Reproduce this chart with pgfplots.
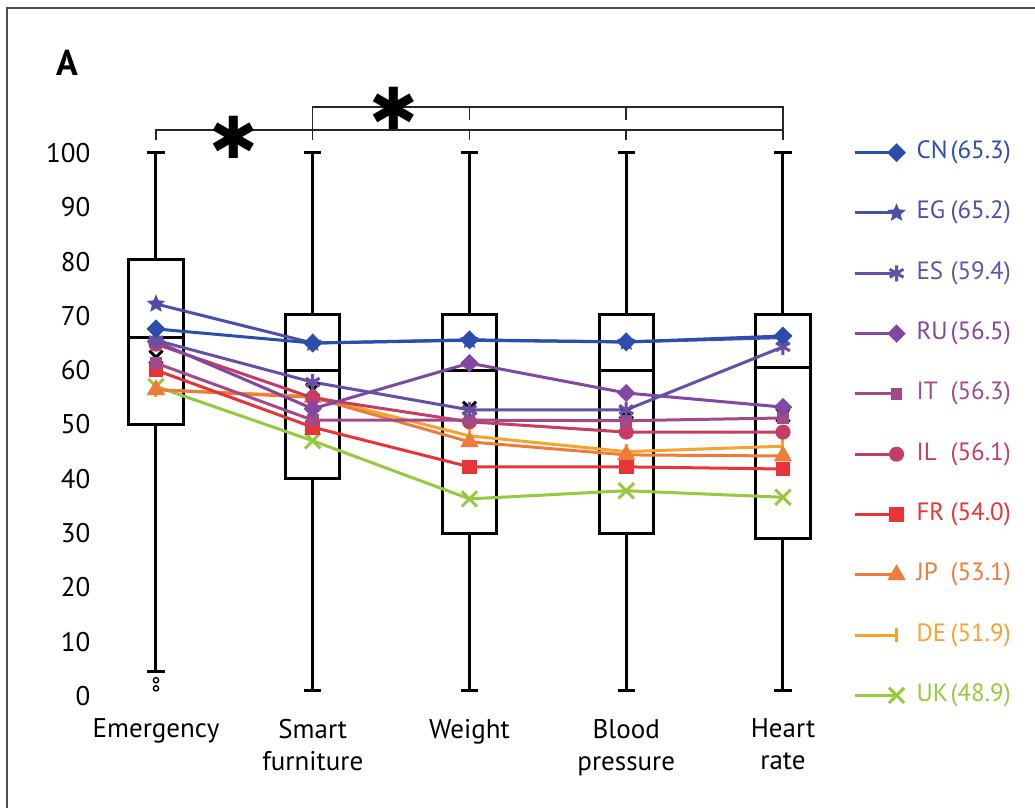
\documentclass[border=0pt]{standalone}
\usepackage{fontspec}
\setmainfont{PT Sans}
\newfontfamily\djv{DejaVu Sans}
\usepackage{pgfplots}
\pgfplotsset{compat=1.18}
\usepgfplotslibrary{statistics}
\usetikzlibrary{plotmarks}
\definecolor{cCN}{HTML}{2B4EAE}
\definecolor{cEG}{HTML}{4A4FAA}
\definecolor{cES}{HTML}{6650A6}
\definecolor{cRU}{HTML}{8147A3}
\definecolor{cIT}{HTML}{A04A8C}
\definecolor{cIL}{HTML}{C53D62}
\definecolor{cFR}{HTML}{E63438}
\definecolor{cJP}{HTML}{EF7B3A}
\definecolor{cDE}{HTML}{F5A32E}
\definecolor{cUK}{HTML}{96C93D}
\pgfdeclareplotmark{fstar}{%
  \pgfpathmoveto{\pgfqpointpolar{90}{\pgfplotmarksize}}%
  \pgfpathlineto{\pgfqpointpolar{126}{0.45\pgfplotmarksize}}%
  \pgfpathlineto{\pgfqpointpolar{162}{\pgfplotmarksize}}%
  \pgfpathlineto{\pgfqpointpolar{198}{0.45\pgfplotmarksize}}%
  \pgfpathlineto{\pgfqpointpolar{234}{\pgfplotmarksize}}%
  \pgfpathlineto{\pgfqpointpolar{270}{0.45\pgfplotmarksize}}%
  \pgfpathlineto{\pgfqpointpolar{306}{\pgfplotmarksize}}%
  \pgfpathlineto{\pgfqpointpolar{342}{0.45\pgfplotmarksize}}%
  \pgfpathlineto{\pgfqpointpolar{18}{\pgfplotmarksize}}%
  \pgfpathlineto{\pgfqpointpolar{54}{0.45\pgfplotmarksize}}%
  \pgfpathclose
  \pgfusepathqfillstroke}
\newcommand{\legtxt}[3]{\textcolor{#1}{\makebox[17pt][l]{#2}(#3)}}
\begin{document}
\begin{tikzpicture}
\begin{axis}[
  scale only axis, width=376.2pt, height=271.5pt,
  anchor=south west, at={(-31.35pt,0pt)},
  xmin=-0.4, xmax=4.4, ymin=0, ymax=100,
  clip=false,
  axis line style={draw=none},
  major tick length=0pt,
  xtick={0,1,2,3,4},
  xticklabels={Emergency,{Smart\\furniture},Weight,{Blood\\pressure},{Heart\\rate}},
  xticklabel style={align=center, font=\fontsize{13.5}{16}\selectfont, yshift=-8pt},
  ytick={0,10,...,100},
  yticklabel style={font=\fontsize{13.5}{16}\selectfont, xshift=2pt},
  /pgf/number format/assume math mode=true,
  boxplot/draw direction=y,
  reverse legend,
  legend cell align=left,
  legend image code/.code={\draw[mark repeat=2,mark phase=2,#1] plot coordinates {(0pt,0pt) (21pt,0pt)};},
  legend style={draw=none, fill=none, inner sep=0pt, outer sep=0pt,
    at={(axis cs:4.447,101.9)}, anchor=north west,
    row sep=20.15pt, column sep=6pt,
    nodes={inner sep=0pt, text height=8pt, text depth=2pt, font=\fontsize{12.5}{14}\selectfont}},
]
% boxes
\addplot[forget plot, black, line width=1.5pt, mark=o, mark size=1.3pt, mark options={line width=0.7pt},
  boxplot prepared={draw position=0, lower whisker=4.6, lower quartile=50, median=66, upper quartile=80.3, upper whisker=100, box extend=0.345, whisker extend=0.11}]
  coordinates {(0,2.9) (0,1.4)};
\addplot[forget plot, black, line width=1.5pt,
  boxplot prepared={draw position=1, lower whisker=1, lower quartile=40, median=60, upper quartile=70.3, upper whisker=100, box extend=0.345, whisker extend=0.11}]
  coordinates {};
\addplot[forget plot, black, line width=1.5pt,
  boxplot prepared={draw position=2, lower whisker=1, lower quartile=30, median=60, upper quartile=70.3, upper whisker=100, box extend=0.345, whisker extend=0.11}]
  coordinates {};
\addplot[forget plot, black, line width=1.5pt,
  boxplot prepared={draw position=3, lower whisker=1, lower quartile=30, median=60, upper quartile=70.3, upper whisker=100, box extend=0.345, whisker extend=0.11}]
  coordinates {};
\addplot[forget plot, black, line width=1.5pt,
  boxplot prepared={draw position=4, lower whisker=1, lower quartile=29, median=60.5, upper quartile=70.3, upper whisker=100, box extend=0.345, whisker extend=0.11}]
  coordinates {};
% means
\addplot[forget plot, only marks, black, mark=x, mark size=4.6pt, line width=1.5pt]
  coordinates {(0,62.4) (1,56.4) (2,53.0) (3,52.3) (4,51.7)};
% series
\addplot[cUK, line width=1.5pt, mark=x, mark size=5.4pt] coordinates {(0,57.0) (1,47.0) (2,36.3) (3,37.8) (4,36.6)};
\addlegendentry{\legtxt{cUK}{UK}{48.9}}
\addplot[cDE, line width=1.5pt, mark=|, mark size=3.6pt] coordinates {(0,56.4) (1,55.2) (2,47.9) (3,45.0) (4,46.0)};
\addlegendentry{\legtxt{cDE}{DE}{51.9}}
\addplot[cJP, line width=1.5pt, mark=triangle*, mark size=3.8pt] coordinates {(0,56.4) (1,55.0) (2,46.8) (3,44.4) (4,44.2)};
\addlegendentry{\legtxt{cJP}{JP}{53.1}}
\addplot[cFR, line width=1.5pt, mark=square*, mark size=2.9pt] coordinates {(0,60.0) (1,49.5) (2,42.2) (3,42.2) (4,41.8)};
\addlegendentry{\legtxt{cFR}{FR}{54.0}}
\addplot[cIL, line width=1.5pt, mark=*, mark size=3pt] coordinates {(0,64.8) (1,54.9) (2,50.5) (3,48.6) (4,48.6)};
\addlegendentry{\legtxt{cIL}{IL}{56.1}}
\addplot[cIT, line width=1.5pt, mark=square*, mark size=2.2pt] coordinates {(0,61.3) (1,50.8) (2,50.8) (3,50.7) (4,51.2)};
\addlegendentry{\legtxt{cIT}{IT}{56.3}}
\addplot[cRU, line width=1.5pt, mark=square*, mark size=2.5pt, mark options={rotate=45}] coordinates {(0,65.3) (1,52.9) (2,61.3) (3,55.8) (4,53.2)};
\addlegendentry{\legtxt{cRU}{RU}{56.5}}
\addplot[cES, line width=1.5pt, mark=asterisk, mark size=4pt] coordinates {(0,65.5) (1,57.8) (2,52.7) (3,52.7) (4,64.3)};
\addlegendentry{\legtxt{cES}{ES}{59.4}}
\addplot[cEG, line width=1.5pt, mark=fstar, mark size=4.2pt, mark options={fill=cEG, line width=0.5pt}] coordinates {(0,72.2) (1,65.0) (2,65.5) (3,65.2) (4,66.0)};
\addlegendentry{\legtxt{cEG}{EG}{65.2}}
\addplot[cCN, line width=1.5pt, mark=square*, mark size=2.6pt, mark options={rotate=45}] coordinates {(0,67.6) (1,65.0) (2,65.6) (3,65.2) (4,66.3)};
\addlegendentry{\legtxt{cCN}{CN}{65.3}}
% significance brackets
\draw[black!85, line width=0.75pt] (axis cs:0,102.4) -- (axis cs:0,104.2) -- (axis cs:4,104.2) -- (axis cs:4,102.4);
\draw[black!85, line width=0.75pt] (axis cs:1,104.2) -- (axis cs:1,102.4);
\draw[black!85, line width=0.75pt] (axis cs:2,104.2) -- (axis cs:2,102.4);
\draw[black!85, line width=0.75pt] (axis cs:3,104.2) -- (axis cs:3,102.4);
\draw[black!85, line width=0.75pt] (axis cs:1,104.2) -- (axis cs:1,108.5) -- (axis cs:4,108.5) -- (axis cs:4,104.2);
\draw[black!85, line width=0.75pt] (axis cs:2,108.5) -- (axis cs:2,106.0);
\draw[black!85, line width=0.75pt] (axis cs:3,108.5) -- (axis cs:3,106.0);
\node[anchor=north, inner sep=0pt] at (axis cs:0.498,106.8) {\djv\fontsize{29}{29}\selectfont ✱};
\node[anchor=north, inner sep=0pt] at (axis cs:1.518,112.2) {\djv\fontsize{29}{29}\selectfont ✱};
\end{axis}
\node[font=\fontsize{18}{18}\selectfont\bfseries] at (-44.5pt,316.5pt) {A};
\draw[black!70, line width=1pt] (-74.5pt,-56pt) -- (-74.5pt,344pt) -- (439.5pt,344pt);
\pgfresetboundingbox
\useasboundingbox (-78pt,-56pt) rectangle (439.5pt,348pt);
\end{tikzpicture}
\end{document}
